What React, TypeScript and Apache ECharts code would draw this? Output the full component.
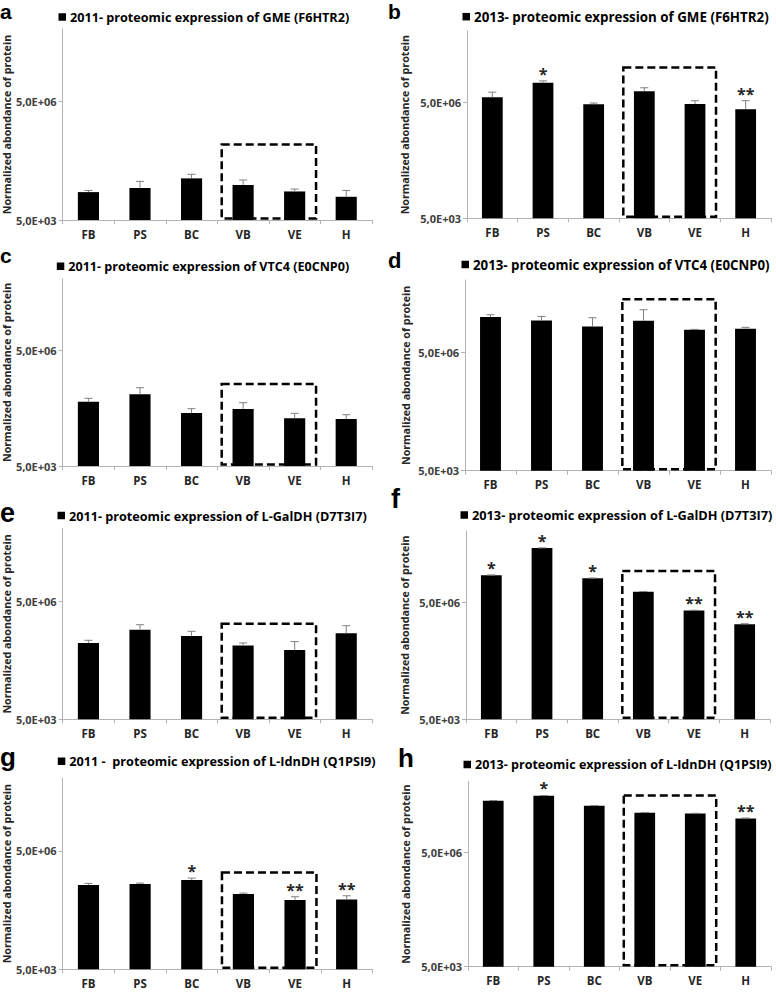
import React, { useEffect, useRef } from 'react';
import * as echarts from 'echarts';

// ---------- data ----------
const CATEGORIES = ['FB', 'PS', 'BC', 'VB', 'VE', 'H'];

const TITLES = [
  '2011- proteomic expression of GME (F6HTR2)',
  '2013- proteomic expression of GME (F6HTR2)',
  '2011- proteomic expression of VTC4 (E0CNP0)',
  '2013- proteomic expression of VTC4 (E0CNP0)',
  '2011- proteomic expression of L-GalDH (D7T3I7)',
  '2013- proteomic expression of L-GalDH (D7T3I7)',
  '2011 -  proteomic expression of L-IdnDH (Q1PSI9)',
  '2013- proteomic expression of L-IdnDH (Q1PSI9)',
];

const LETTERS = ['a', 'b', 'c', 'd', 'e', 'f', 'g', 'h'];

const VALUES_A = [25500, 32400, 56900, 38600, 26500, 19400];
const ERRORS_A = [2600, 15300, 15200, 13200, 4000, 8700];
const STARS_A = ['', '', '', '', '', ''];

const VALUES_B = [6.78e6, 16.1e6, 4.43e6, 9.73e6, 4.51e6, 3.33e6];
const ERRORS_B = [2.38e6, 1.8e6, 0.37e6, 2.17e6, 1.0e6, 2.18e6];
const STARS_B = ['', '*', '', '', '', '**'];

const VALUES_C = [230e3, 357e3, 117e3, 149e3, 85.5e3, 82e3];
const ERRORS_C = [52e3, 173e3, 35e3, 68e3, 29.5e3, 24e3];
const STARS_C = ['', '', '', '', '', ''];

const VALUES_D = [39.9e6, 32.9e6, 23.2e6, 32.3e6, 19.1e6, 20.3e6];
const ERRORS_D = [5.9e6, 8.6e6, 15.3e6, 29.1e6, 0.4e6, 1.6e6];
const STARS_D = ['', '', '', '', '', ''];

const VALUES_E = [434e3, 946e3, 652e3, 372e3, 288e3, 762e3];
const ERRORS_E = [73e3, 314e3, 205e3, 62e3, 182e3, 428e3];
const STARS_E = ['', '', '', '', '', ''];

const VALUES_F = [25.4e6, 127e6, 21.2e6, 9.6e6, 3.16e6, 1.4e6];
const ERRORS_F = [0.5e6, 2e6, 0.4e6, 0.15e6, 0.05e6, 0.04e6];
const STARS_F = ['*', '*', '*', '', '**', '**'];

const VALUES_G = [679e3, 719e3, 908e3, 402e3, 283e3, 295e3];
const ERRORS_G = [71e3, 43e3, 112e3, 24e3, 61e3, 69e3];
const STARS_G = ['', '', '*', '', '**', '**'];

const VALUES_H = [110e6, 148e6, 81.3e6, 53.4e6, 51.2e6, 37.9e6];
const ERRORS_H = [1e6, 3e6, 0.8e6, 0.5e6, 0.5e6, 1e6];
const STARS_H = ['', '*', '', '', '', '**'];

// dashed box spans these categories, up to this value
const BOX_CATEGORIES = ['VB', 'VE'];
const BOX_TOPS = [414e3, 40e6, 660e3, 114e6, 1.34e6, 32.8e6, 1.42e6, 151e6];

const Y_MIN = 5000;
const Y_MAX = 3.5e8;
const Y_TICKS = [5000, 5e6];
const Y_TICK_LABELS = ['5,0E+03', '5,0E+06'];
const Y_NAME = 'Normalized abondance of protein';

const VALUES = [VALUES_A, VALUES_B, VALUES_C, VALUES_D, VALUES_E, VALUES_F, VALUES_G, VALUES_H];
const ERRORS = [ERRORS_A, ERRORS_B, ERRORS_C, ERRORS_D, ERRORS_E, ERRORS_F, ERRORS_G, ERRORS_H];
const STARS = [STARS_A, STARS_B, STARS_C, STARS_D, STARS_E, STARS_F, STARS_G, STARS_H];

// ---------- layout (pixels) ----------
const GRIDS = [
  { left: 60, top: 29, width: 312, height: 191 },
  { left: 467, top: 31, width: 304, height: 187.3 },
  { left: 60, top: 278.7, width: 312, height: 187.3 },
  { left: 465, top: 280, width: 306, height: 190.7 },
  { left: 60, top: 528.5, width: 312, height: 190.8 },
  { left: 466, top: 531, width: 304, height: 188.3 },
  { left: 61.5, top: 778, width: 311, height: 191.3 },
  { left: 468, top: 781.5, width: 303, height: 185.2 },
];
const NAME_GAPS = [48, 57, 48, 54, 48, 56, 49.5, 57];
const TITLE_POS = [
  { x: 70, cy: 17, fs: 12.65 },
  { x: 474, cy: 16.7, fs: 13.35 },
  { x: 68.3, cy: 266.3, fs: 12.55 },
  { x: 473, cy: 264.5, fs: 13.25 },
  { x: 69, cy: 515.5, fs: 12.65 },
  { x: 472, cy: 515, fs: 12.75 },
  { x: 69.3, cy: 761.2, fs: 12.7 },
  { x: 475, cy: 764.5, fs: 12.55 },
];
const LETTER_POS = [
  { x: 0, baseline: 19.2, fs: 21 },
  { x: 388, baseline: 19.3, fs: 21 },
  { x: 0, baseline: 263.3, fs: 21 },
  { x: 388, baseline: 268.3, fs: 22 },
  { x: 0, baseline: 522, fs: 27 },
  { x: 391, baseline: 508, fs: 27 },
  { x: 0, baseline: 766, fs: 26 },
  { x: 398, baseline: 767, fs: 26 },
];

const FONT = '"Open Sans"';

function buildOption() {
  const grid: any[] = [];
  const xAxis: any[] = [];
  const yAxis: any[] = [];
  const series: any[] = [];
  const graphic: any[] = [];

  for (let p = 0; p < 8; p++) {
    grid.push({ ...GRIDS[p], containLabel: false });
    xAxis.push({
      type: 'category',
      gridIndex: p,
      data: CATEGORIES,
      axisLine: { lineStyle: { color: '#b3b3b3', width: 1 } },
      axisTick: { show: true, length: 4, lineStyle: { color: '#b3b3b3' } },
      axisLabel: { margin: 8, fontFamily: FONT, fontWeight: 'bold', fontSize: 11.5, color: '#262626' },
      splitLine: { show: false },
    });
    yAxis.push({
      type: 'log',
      logBase: 10,
      gridIndex: p,
      min: Y_MIN,
      max: Y_MAX,
      startValue: Y_MIN,
      name: Y_NAME,
      nameLocation: 'middle',
      nameGap: NAME_GAPS[p],
      nameTextStyle: { fontFamily: FONT, fontWeight: 'bold', fontSize: 10.7, color: '#262626' },
      axisLine: { show: true, lineStyle: { color: '#b3b3b3', width: 1 } },
      axisTick: { show: true, length: 4, customValues: Y_TICKS, lineStyle: { color: '#b3b3b3' } },
      axisLabel: {
        margin: 6,
        customValues: Y_TICKS,
        fontFamily: FONT,
        fontWeight: 'bold',
        fontSize: 11,
        color: '#404040',
        formatter: (v: number) => {
          const k = Y_TICKS.findIndex((t) => Math.abs(t - v) / t < 1e-6);
          return k >= 0 ? Y_TICK_LABELS[k] : '';
        },
      },
      splitLine: { show: false },
      minorTick: { show: false },
    });

    series.push({
      name: TITLES[p],
      type: 'bar',
      xAxisIndex: p,
      yAxisIndex: p,
      data: VALUES[p],
      barWidth: '41%',
      clip: true,
      itemStyle: { color: '#000000' },
      z: 2,
    });

    const stars = STARS[p];
    series.push({
      type: 'custom',
      xAxisIndex: p,
      yAxisIndex: p,
      data: VALUES[p].map((v, i) => [i, v, v + ERRORS[p][i]]),
      encode: { x: 0, y: 2 },
      z: 3,
      renderItem: (params: any, api: any) => {
        const i = api.value(0);
        const base = api.coord([i, api.value(1)]);
        const top = api.coord([i, api.value(2)]);
        const st = { stroke: '#808080', lineWidth: 1 };
        const children: any[] = [
          { type: 'line', shape: { x1: base[0], y1: base[1], x2: top[0], y2: top[1] }, style: st },
          { type: 'line', shape: { x1: top[0] - 4, y1: top[1], x2: top[0] + 4, y2: top[1] }, style: st },
        ];
        const s = stars[params.dataIndex];
        if (s) {
          children.push({
            type: 'text',
            x: top[0],
            y: top[1] + 1,
            style: {
              text: s,
              align: 'center',
              verticalAlign: 'bottom',
              font: 'bold 16px "Open Sans"',
              fill: '#262626',
            },
          });
        }
        return { type: 'group', children };
      },
    });

    const i0 = CATEGORIES.indexOf(BOX_CATEGORIES[0]);
    const i1 = CATEGORIES.indexOf(BOX_CATEGORIES[1]);
    series.push({
      type: 'custom',
      xAxisIndex: p,
      yAxisIndex: p,
      data: [[i0, i1, BOX_TOPS[p]]],
      encode: { x: 0, y: 2 },
      z: 4,
      renderItem: (params: any, api: any) => {
        const a = api.value(0);
        const b = api.value(1);
        const topV = api.value(2);
        const pa = api.coord([a, topV]);
        const pa2 = api.coord([a + 1, topV]);
        const band = pa2[0] - pa[0];
        const pb = api.coord([b, Y_MIN]);
        const x0 = pa[0] - band / 2 + band * 0.085;
        const x1 = pb[0] + band / 2 - band * 0.085;
        return {
          type: 'rect',
          shape: { x: x0, y: pa[1], width: x1 - x0, height: pb[1] - 1.5 - pa[1] },
          style: { fill: 'none', stroke: '#000000', lineWidth: 2.5, lineDash: [8, 4] },
        };
      },
    });

    // title: legend-like square + bold text
    const tp = TITLE_POS[p];
    graphic.push({
      type: 'rect',
      shape: { x: tp.x - 11.5, y: tp.cy - 3.75, width: 7.5, height: 7.5 },
      style: { fill: '#000000' },
    });
    graphic.push({
      type: 'text',
      x: tp.x,
      y: tp.cy,
      style: {
        text: TITLES[p],
        font: `bold ${tp.fs}px "Open Sans"`,
        fill: '#000000',
        verticalAlign: 'middle',
        align: 'left',
      },
    });

    const lp = LETTER_POS[p];
    graphic.push({
      type: 'text',
      x: lp.x,
      y: lp.baseline - 0.35 * lp.fs,
      style: {
        text: LETTERS[p],
        font: `bold ${lp.fs}px "Liberation Sans"`,
        fill: '#000000',
        verticalAlign: 'middle',
        align: 'left',
      },
    });
  }

  return {
    animation: false,
    backgroundColor: '#ffffff',
    grid,
    xAxis,
    yAxis,
    series,
    graphic,
  };
}

export default function App() {
  const ref = useRef<HTMLDivElement>(null);
  useEffect(() => {
    if (!ref.current) return;
    const chart = echarts.init(ref.current, undefined, { renderer: 'svg' });
    chart.setOption(buildOption() as any);
    return () => chart.dispose();
  }, []);
  return (
    <div
      ref={ref}
      style={{ position: 'absolute', left: 0, top: 0, width: 776, height: 992, background: '#fff' }}
    />
  );
}
